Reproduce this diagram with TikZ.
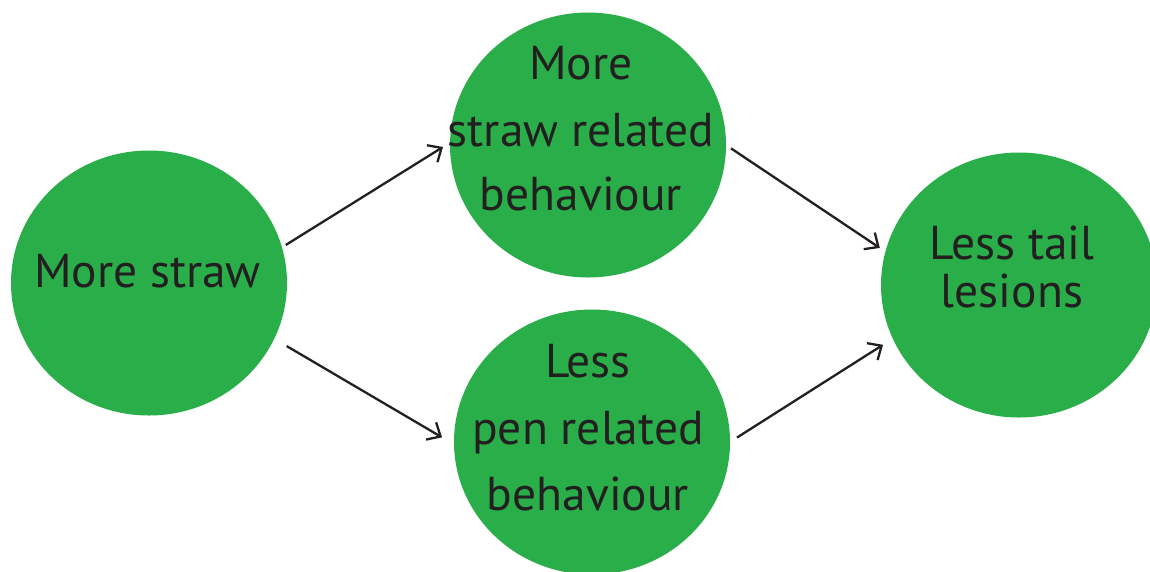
\documentclass[tikz,border=0pt]{standalone}
\usepackage{fontspec}
\setmainfont{PT Sans}
\usetikzlibrary{shapes.geometric,arrows.meta}
\definecolor{circgreen}{RGB}{41,174,74}
\definecolor{inkgray}{RGB}{35,31,32}
\tikzset{
  bubble/.style={ellipse, fill=circgreen, draw=none, inner sep=0pt, outer sep=0pt,
    minimum width=276pt, minimum height=265pt},
  txt/.style={anchor=base, inner sep=0pt, outer sep=0pt, text=inkgray,
    font=\fontsize{47.5}{57}\selectfont},
  arr/.style={draw=inkgray, line width=2.3pt, -{Straight Barb[length=11pt,width=20pt]}}
}
\begin{document}
\begin{tikzpicture}[x=1pt,y=-1pt]
\useasboundingbox (0,0) rectangle (1150,571);
\node[bubble] (a) at (149,283) {};
\node[bubble] (b) at (588,145) {};
\node[bubble] (c) at (592,442) {};
\node[bubble] (d) at (1019,285) {};
\node[txt] (a1) at (147.5,287) {More straw};
\node[txt] (b1) at (581,79) {More};
\node[txt] (b2) at (581,146) {straw related};
\node[txt] (b3) at (581,210) {behaviour};
\node[txt] (c1) at (588,377) {Less};
\node[txt] (c2) at (588,444) {pen related};
\node[txt] (c3) at (588,510) {behaviour};
\node[txt] (d1) at (1012,259) {Less tail};
\node[txt] (d2) at (1012,307) {lesions};
\draw[arr, shorten <=4.5pt, shorten >=8.3pt] (a.15) -- (b.179);
\draw[arr, shorten <=14.5pt, shorten >=13.9pt] (a.-24) -- (c.181);
\draw[arr, shorten <=6pt, shorten >=6.8pt] (b.0) -- (d.166);
\draw[arr, shorten <=8.3pt, shorten >=11.6pt] (c.0) -- (d.203);
\end{tikzpicture}
\end{document}
